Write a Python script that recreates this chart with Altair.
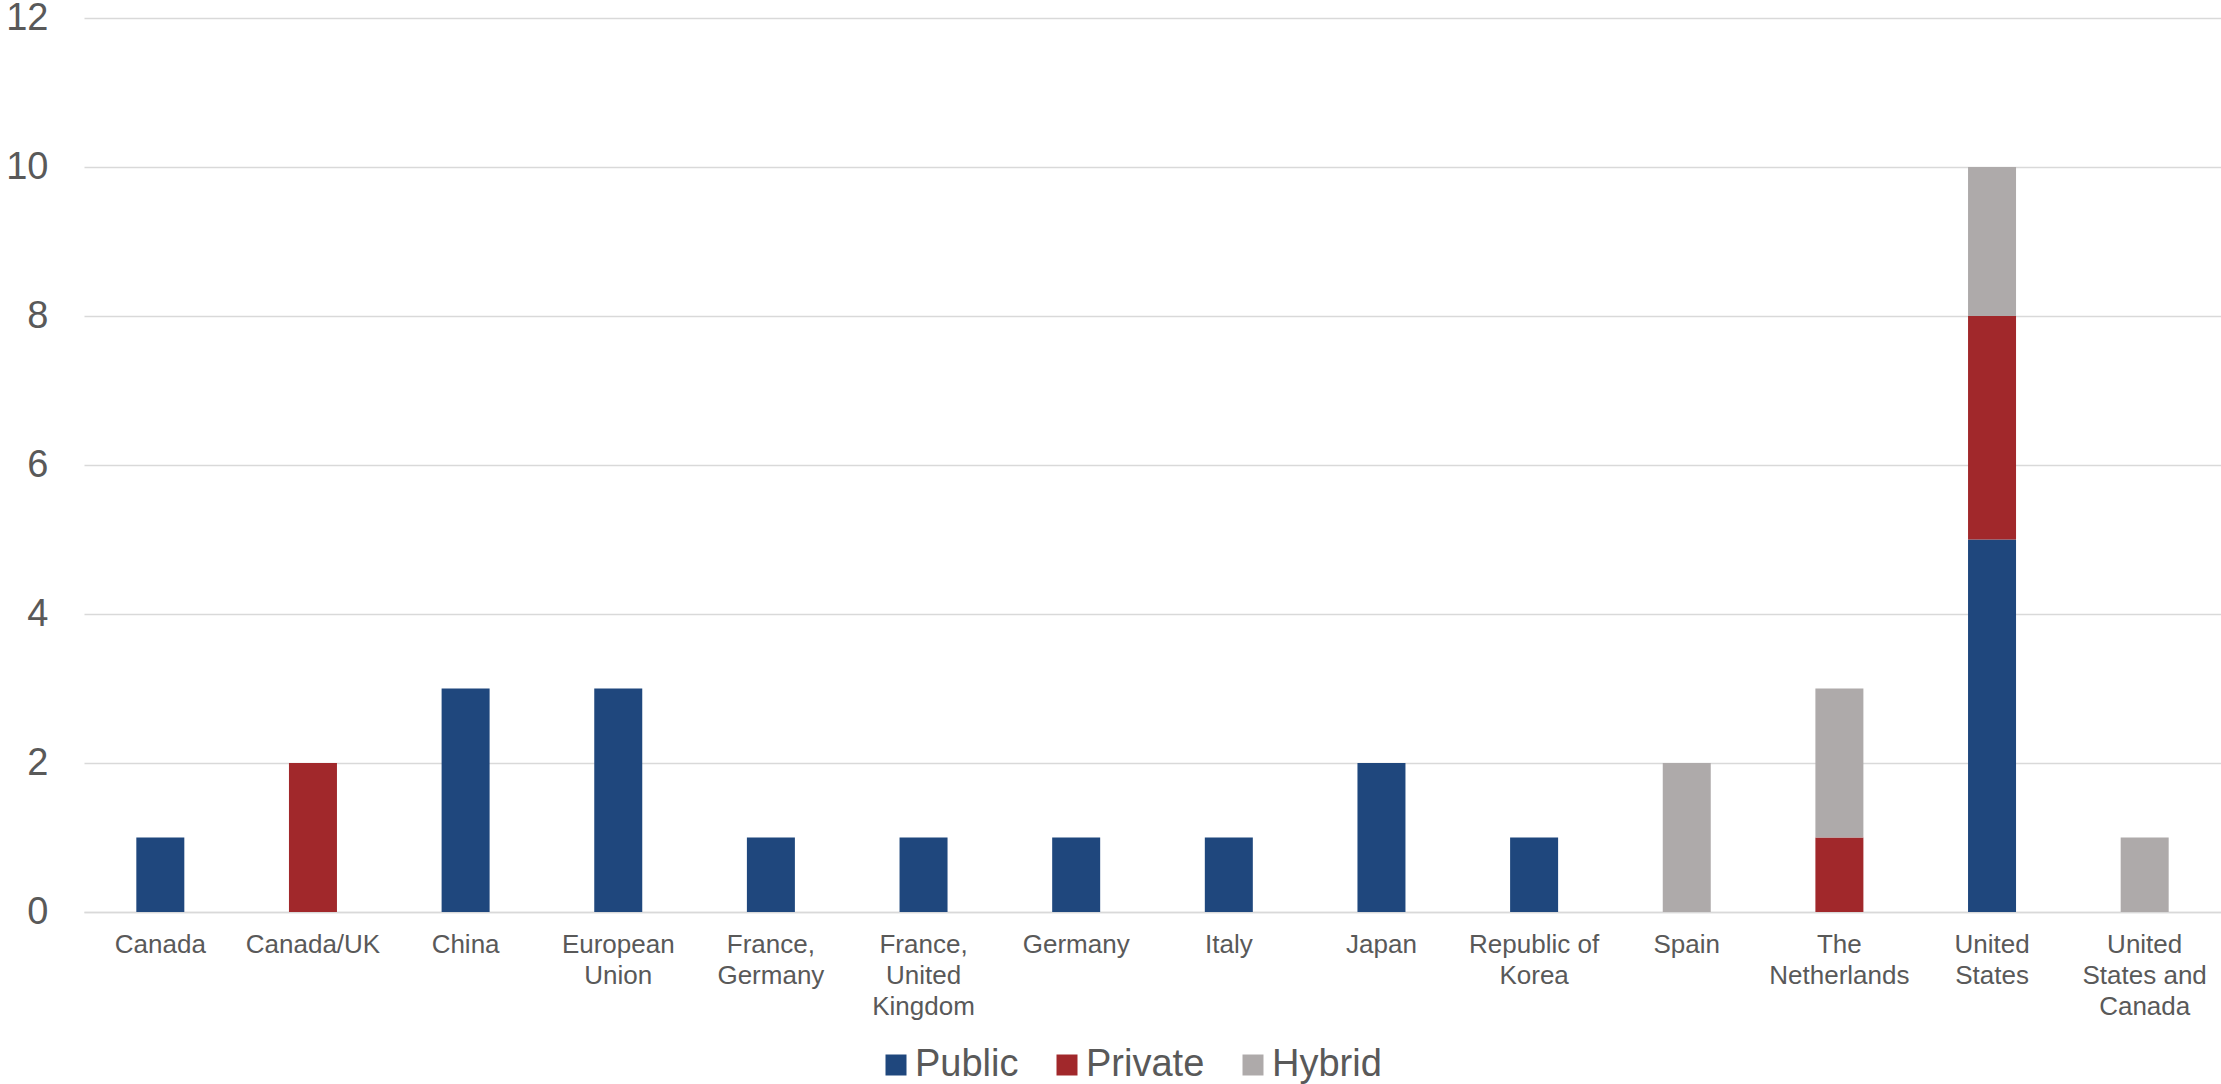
import json
import altair as alt
import pandas as pd

categories = [
    "Canada", "Canada/UK", "China", "European Union", "France, Germany",
    "France, United Kingdom", "Germany", "Italy", "Japan", "Republic of Korea",
    "Spain", "The Netherlands", "United States", "United States and Canada",
]
label_lines = [
    ["Canada"], ["Canada/UK"], ["China"], ["European", "Union"], ["France,", "Germany"],
    ["France,", "United", "Kingdom"], ["Germany"], ["Italy"], ["Japan"], ["Republic of", "Korea"],
    ["Spain"], ["The", "Netherlands"], ["United", "States"], ["United", "States and", "Canada"],
]
public = [1, 0, 3, 3, 1, 1, 1, 1, 2, 1, 0, 0, 5, 0]
private = [0, 2, 0, 0, 0, 0, 0, 0, 0, 0, 0, 1, 3, 0]
hybrid = [0, 0, 0, 0, 0, 0, 0, 0, 0, 0, 2, 2, 2, 1]
series = ["Public", "Private", "Hybrid"]
colors = ["#1F477D", "#A1282B", "#AEAAAA"]

rows = []
for i, c in enumerate(categories):
    for k, (name, vals) in enumerate(zip(series, [public, private, hybrid])):
        if vals[i] > 0:
            rows.append({"country": c, "type": name, "value": vals[i], "order": k})
df = pd.DataFrame(rows)

label_map = "{" + ",".join(json.dumps(c) + ":" + json.dumps(l) for c, l in zip(categories, label_lines)) + "}"

chart = alt.Chart(df).mark_bar(size=48).encode(
    x=alt.X("country:N", sort=categories, title=None,
            scale=alt.Scale(paddingInner=0, paddingOuter=0),
            axis=alt.Axis(labelAngle=0, labelExpr=label_map + "[datum.value]",
                          labelFont="Liberation Sans", labelFontSize=26, labelColor="#595959",
                          labelLineHeight=31, labelBaseline="top", labelPadding=19,
                          ticks=False, tickSize=0, domain=True, domainColor="#D9D9D9",
                          domainWidth=1.5, grid=False, labelLimit=300)),
    y=alt.Y("value:Q", stack="zero", title=None,
            scale=alt.Scale(domain=[0, 12]),
            axis=alt.Axis(values=[0, 2, 4, 6, 8, 10, 12], labelFont="Liberation Sans",
                          labelFontSize=38, labelColor="#595959", labelPadding=36,
                          ticks=False, tickSize=0, domain=False, grid=True,
                          gridColor="#D9D9D9", gridWidth=1.5)),
    color=alt.Color("type:N", sort=series,
                    scale=alt.Scale(domain=series, range=colors),
                    legend=alt.Legend(title=None, orient="none", direction="horizontal",
                                      legendX=793, legendY=1028,
                                      symbolType="square", symbolSize=441,
                                      symbolStrokeWidth=0, labelOffset=0,
                                      columnPadding=29, labelFont="Liberation Sans",
                                      labelFontSize=38, labelColor="#595959")),
    order=alt.Order("order:Q"),
).properties(
    width=2137, height=894,
    background="white",
    autosize=alt.AutoSizeParams(type="none"),
    padding={"left": 84, "top": 18, "right": 0, "bottom": 172},
).configure_view(stroke=None, strokeWidth=0)

chart.save("out.html", embed_options={"renderer": "svg", "actions": False})
